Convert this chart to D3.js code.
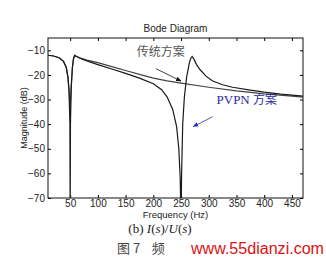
<!DOCTYPE html>
<html>
<head>
<meta charset="utf-8">
<script src="https://cdn.jsdelivr.net/npm/d3@7"></script>
<style>
  body { margin: 0; background: #fff; }
  svg { display: block; }
  .tick text { font-family: Arial, "Liberation Sans", sans-serif; font-size: 10px; fill: #222; }
</style>
</head>
<body>
<div id="chart"></div>
<script>
// Data
let freqTrad = [10, 20, 30, 38, 43, 46, 48, 49.5, 50, 50.5, 52, 54, 56, 58, 62, 70, 80, 100, 125, 150, 175, 200, 225, 250, 300, 350, 400, 450, 470];
let magTrad  = [-12.0, -12.3, -13.0, -14.5, -17, -21, -26, -33, -34, -31, -24, -17, -13.5, -12.3, -12.6, -13.3, -14.0, -15.0, -16.6, -18.2, -19.8, -21.3, -22.4, -23.3, -25.0, -26.5, -27.7, -28.6, -29.0];

let freqPvpn = [10, 20, 30, 38, 43, 46, 48, 49.5, 50, 50.5, 52, 54, 56, 58, 62, 70, 80, 100, 125, 150, 175, 200, 215, 225, 235, 242, 246, 248.5, 250, 251, 253, 256, 260, 265, 268, 270, 273, 278, 284, 295, 307, 325, 343, 375, 400, 430, 470];
let magPvpn  = [-12.0, -12.3, -13.0, -14.5, -17, -21, -27, -40, -80, -40, -25, -17, -13.3, -12.0, -12.5, -13.4, -14.3, -15.8, -17.6, -19.4, -21.3, -23.6, -26, -29, -34, -41, -50, -62, -80, -60, -40, -29, -21, -15, -13, -12.5, -13.5, -15.8, -17.8, -20.5, -22.5, -24, -25, -26.2, -27, -27.8, -28.6];

let xTicks = [50, 100, 150, 200, 250, 300, 350, 400, 450];
let yTicks = [-70, -60, -50, -40, -30, -20, -10];

// Set dimensions
let width = 326,
    height = 260;
let margin = {left: 48, top: 38, right: 23, bottom: 62};
let plotW = width - margin.left - margin.right,
    plotH = height - margin.top - margin.bottom;

// Create SVG
let svg = d3.select("#chart")
    .append("svg")
        .attr("width", width)
        .attr("height", height);

let x = d3.scaleLinear().domain([10, 470]).range([0, plotW]);
let y = d3.scaleLinear().domain([-70, -5]).range([plotH, 0]);

let g = svg.append("g")
    .attr("transform", `translate(${margin.left},${margin.top})`);

g.append("clipPath")
    .attr("id", "clip")
    .append("rect")
        .attr("width", plotW)
        .attr("height", plotH);

// Axes, MATLAB style ticks inside on all sides
let tickLen = 3;
g.append("g")
    .attr("transform", `translate(0,${plotH})`)
    .call(d3.axisBottom(x).tickValues(xTicks).tickSize(-tickLen).tickPadding(2))
    .call(a => a.select(".domain").remove());
g.append("g")
    .call(d3.axisTop(x).tickValues(xTicks).tickSize(-tickLen).tickFormat(""))
    .call(a => a.select(".domain").remove());
g.append("g")
    .call(d3.axisLeft(y).tickValues(yTicks).tickSize(-tickLen).tickPadding(3))
    .call(a => a.select(".domain").remove());
g.append("g")
    .attr("transform", `translate(${plotW},0)`)
    .call(d3.axisRight(y).tickValues(yTicks).tickSize(-tickLen).tickFormat(""))
    .call(a => a.select(".domain").remove());

g.append("rect")
    .attr("width", plotW)
    .attr("height", plotH)
    .attr("fill", "none")
    .attr("stroke", "#111")
    .attr("stroke-width", 1);

// Curves
let line = d3.line()
    .x(d => x(d[0]))
    .y(d => y(d[1]));

let trad = freqTrad.map((f, i) => [f, magTrad[i]]);
let pvpn = freqPvpn.map((f, i) => [f, magPvpn[i]]);

g.append("path")
    .datum(trad)
    .attr("clip-path", "url(#clip)")
    .attr("fill", "none")
    .attr("stroke", "#444")
    .attr("stroke-width", 1.2)
    .attr("d", line);

g.append("path")
    .datum(pvpn)
    .attr("clip-path", "url(#clip)")
    .attr("fill", "none")
    .attr("stroke", "#1a1a1a")
    .attr("stroke-width", 1.2)
    .attr("d", line);

// Arrow heads
let defs = svg.append("defs");
[["arrowBlack", "#111"], ["arrowBlue", "#2233aa"]].forEach(([id, c]) => {
    defs.append("marker")
        .attr("id", id)
        .attr("viewBox", "0 0 10 10")
        .attr("refX", 9).attr("refY", 5)
        .attr("markerWidth", 7).attr("markerHeight", 7)
        .attr("orient", "auto")
        .append("path")
            .attr("d", "M0,1 L10,5 L0,9 Z")
            .attr("fill", c);
});

// Annotations
g.append("text")
    .attr("x", x(170))
    .attr("y", y(-12.5))
    .attr("font-family", "'Noto Sans CJK SC', sans-serif")
    .attr("font-size", 12)
    .attr("fill", "#555")
    .text("传统方案");
g.append("line")
    .attr("x1", x(205)).attr("y1", y(-17.5))
    .attr("x2", x(250)).attr("y2", y(-22.5))
    .attr("stroke", "#111")
    .attr("stroke-width", 0.8)
    .attr("marker-end", "url(#arrowBlack)");

g.append("text")
    .attr("x", x(314))
    .attr("y", y(-32))
    .attr("font-family", "'Liberation Serif', serif")
    .attr("font-size", 13)
    .attr("fill", "#2a2a99")
    .text("PVPN ")
    .append("tspan")
        .attr("font-family", "'Noto Sans CJK SC', sans-serif")
        .attr("font-size", 12)
        .text("方案");
g.append("line")
    .attr("x1", x(307)).attr("y1", y(-37))
    .attr("x2", x(272)).attr("y2", y(-41))
    .attr("stroke", "#2233aa")
    .attr("stroke-width", 0.8)
    .attr("marker-end", "url(#arrowBlue)");

// Titles
svg.append("text")
    .attr("x", margin.left + plotW / 2)
    .attr("y", 32)
    .attr("text-anchor", "middle")
    .attr("font-family", "Arial, 'Liberation Sans', sans-serif")
    .attr("font-size", 10)
    .attr("fill", "#222")
    .text("Bode Diagram");

svg.append("text")
    .attr("transform", `translate(27,${margin.top + plotH / 2}) rotate(-90)`)
    .attr("text-anchor", "middle")
    .attr("font-family", "Arial, 'Liberation Sans', sans-serif")
    .attr("font-size", 9)
    .attr("fill", "#222")
    .text("Magnitude (dB)");

svg.append("text")
    .attr("x", margin.left + plotW / 2)
    .attr("y", 218)
    .attr("text-anchor", "middle")
    .attr("font-family", "Arial, 'Liberation Sans', sans-serif")
    .attr("font-size", 9.5)
    .attr("fill", "#222")
    .text("Frequency  (Hz)");

let cap = svg.append("text")
    .attr("x", 160)
    .attr("y", 233)
    .attr("text-anchor", "middle")
    .attr("font-family", "'Liberation Serif', serif")
    .attr("font-size", 13)
    .attr("fill", "#222");
cap.append("tspan").text("(b)  ");
cap.append("tspan").attr("font-style", "italic").text("I");
cap.append("tspan").text("(");
cap.append("tspan").attr("font-style", "italic").text("s");
cap.append("tspan").text(")/");
cap.append("tspan").attr("font-style", "italic").text("U");
cap.append("tspan").text("(");
cap.append("tspan").attr("font-style", "italic").text("s");
cap.append("tspan").text(")");

svg.append("text")
    .attr("x", 117)
    .attr("y", 253)
    .attr("font-family", "'Noto Sans CJK SC', sans-serif")
    .attr("font-size", 13)
    .attr("fill", "#444")
    .attr("xml:space", "preserve")
    .text("图 7    频");

svg.append("text")
    .attr("x", 191)
    .attr("y", 254)
    .attr("font-family", "Arial, 'Liberation Sans', sans-serif")
    .attr("font-size", 16)
    .attr("fill", "#dd1111")
    .attr("textLength", 133)
    .attr("lengthAdjust", "spacingAndGlyphs")
    .text("www.55dianzi.com");
</script>
</body>
</html>
